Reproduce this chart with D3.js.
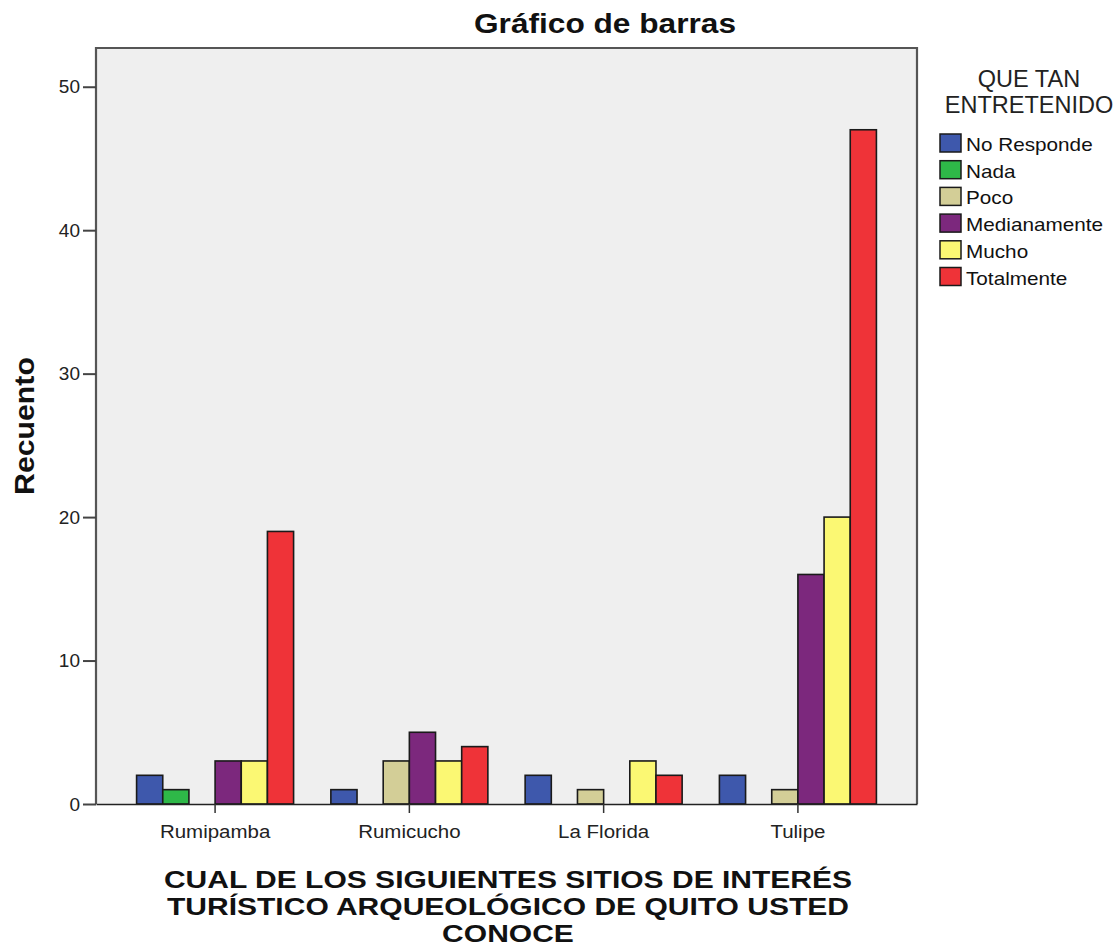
<!DOCTYPE html>
<html>
<head>
<meta charset="utf-8">
<script src="https://cdn.jsdelivr.net/npm/d3@7"></script>
<style>
  body { margin: 0; background: #fff; }
  svg { font-family: "Liberation Sans", Arial, sans-serif; }
</style>
</head>
<body>
<svg id="chart" width="1120" height="952"></svg>
<script>
// Counts of "QUE TAN ENTRETENIDO" answers for each archaeological site
const sites = ["Rumipamba", "Rumicucho", "La Florida", "Tulipe"];
const levels = ["No Responde", "Nada", "Poco", "Medianamente", "Mucho", "Totalmente"];
const noResponde   = [2, 1, 2, 2];
const nada         = [1, 0, 0, 0];
const poco         = [0, 3, 1, 1];
const medianamente = [3, 5, 0, 16];
const mucho        = [3, 3, 3, 20];
const totalmente   = [19, 4, 2, 47];
const yTicks = [0, 10, 20, 30, 40, 50];
const levelColors = ["#3e58ac", "#2eb848", "#d3ce97", "#7c287d", "#fbf873", "#ef3338"];

const seriesValues = [noResponde, nada, poco, medianamente, mucho, totalmente];
const rows = [];
sites.forEach((s, i) => levels.forEach((l, j) => rows.push({ site: s, level: l, value: seriesValues[j][i] })));

// widen glyphs horizontally by factor k
function stretch(sel, k) {
  sel.each(function () {
    const w = this.getComputedTextLength();
    d3.select(this).attr("textLength", w * k).attr("lengthAdjust", "spacingAndGlyphs");
  });
}

const svg = d3.select("#chart");
const plot = { left: 96, right: 917, top: 48, bottom: 804 };

const x = d3.scaleBand().domain(sites).range([plot.left, plot.right]).paddingOuter(0.113).paddingInner(0);
const groupWidth = 157;
const xInner = d3.scaleBand().domain(levels).range([0, groupWidth]);
const y = d3.scaleLinear().domain([0, 52.7]).range([plot.bottom, plot.top]);
const color = d3.scaleOrdinal().domain(levels).range(levelColors);

// plot background
svg.append("rect")
  .attr("x", plot.left).attr("y", plot.top)
  .attr("width", plot.right - plot.left).attr("height", plot.bottom - plot.top)
  .attr("fill", "#efefef");

// bars
svg.append("g").selectAll("rect")
  .data(rows.filter(d => d.value > 0))
  .join("rect")
  .attr("x", d => x(d.site) + x.bandwidth() / 2 - groupWidth / 2 + xInner(d.level))
  .attr("y", d => y(d.value))
  .attr("width", xInner.bandwidth())
  .attr("height", d => y(0) - y(d.value))
  .attr("fill", d => color(d.level))
  .attr("stroke", "#1a1a1a")
  .attr("stroke-width", 1.6);

// frame (top, left, right)
svg.append("path")
  .attr("d", `M${plot.left},${plot.bottom} V${plot.top} H${plot.right} V${plot.bottom}`)
  .attr("fill", "none").attr("stroke", "#555").attr("stroke-width", 2.2);

// y axis
const yAxis = d3.axisLeft(y).tickValues(yTicks).tickSize(13).tickPadding(3);
const gy = svg.append("g").attr("transform", `translate(${plot.left},0)`).call(yAxis);
gy.select(".domain").remove();
gy.selectAll(".tick line").attr("stroke", "#444").attr("stroke-width", 2);
gy.selectAll(".tick text").attr("font-size", 19).attr("fill", "#222")
  .attr("font-family", "'Liberation Sans', Arial, sans-serif");

// x axis
const xAxis = d3.axisBottom(x).tickSize(9).tickSizeOuter(0);
const gx = svg.append("g").attr("transform", `translate(0,${plot.bottom})`).call(xAxis);
gx.select(".domain").attr("stroke", "#222").attr("stroke-width", 1.5);
gx.selectAll(".tick line").attr("stroke", "#333").attr("stroke-width", 1.5);
gx.selectAll(".tick text").attr("font-size", 17.5).attr("fill", "#222")
  .attr("y", 34).attr("dy", null)
  .attr("font-family", "'Liberation Sans', Arial, sans-serif")
  .call(stretch, 1.17);

// title
svg.append("text").attr("x", 605).attr("y", 33).attr("text-anchor", "middle")
  .attr("font-size", 28).attr("font-weight", "bold").attr("fill", "#111")
  .text("Gráfico de barras")
  .call(stretch, 1.13);

// y label
svg.append("text").attr("transform", "translate(34,426) rotate(-90)")
  .attr("text-anchor", "middle").attr("font-size", 27).attr("font-weight", "bold").attr("fill", "#111")
  .text("Recuento")
  .call(stretch, 1.12);

// x label
const xLabelLines = ["CUAL DE LOS SIGUIENTES SITIOS DE INTERÉS", "TURÍSTICO ARQUEOLÓGICO DE QUITO USTED", "CONOCE"];
svg.append("g").selectAll("text").data(xLabelLines).join("text")
  .attr("x", 508).attr("y", (d, i) => 888 + i * 27)
  .attr("text-anchor", "middle").attr("font-size", 24.5).attr("font-weight", "bold").attr("fill", "#111")
  .text(d => d)
  .call(stretch, 1.225);

// legend
const legend = svg.append("g");
legend.selectAll("text.title").data(["QUE TAN", "ENTRETENIDO"]).join("text")
  .attr("class", "title")
  .attr("x", 1029).attr("y", (d, i) => 87 + i * 26)
  .attr("text-anchor", "middle").attr("font-size", 23.5).attr("fill", "#222")
  .text(d => d);
const items = legend.selectAll("g.item").data(levels).join("g")
  .attr("class", "item")
  .attr("transform", (d, i) => `translate(940,${134 + i * 26.7})`);
items.append("rect").attr("width", 21).attr("height", 18)
  .attr("fill", d => color(d)).attr("stroke", "#1a1a1a").attr("stroke-width", 1.5);
items.append("text").attr("x", 26).attr("y", 17).attr("font-size", 19).attr("fill", "#111")
  .text(d => d)
  .call(stretch, 1.09);
</script>
</body>
</html>
